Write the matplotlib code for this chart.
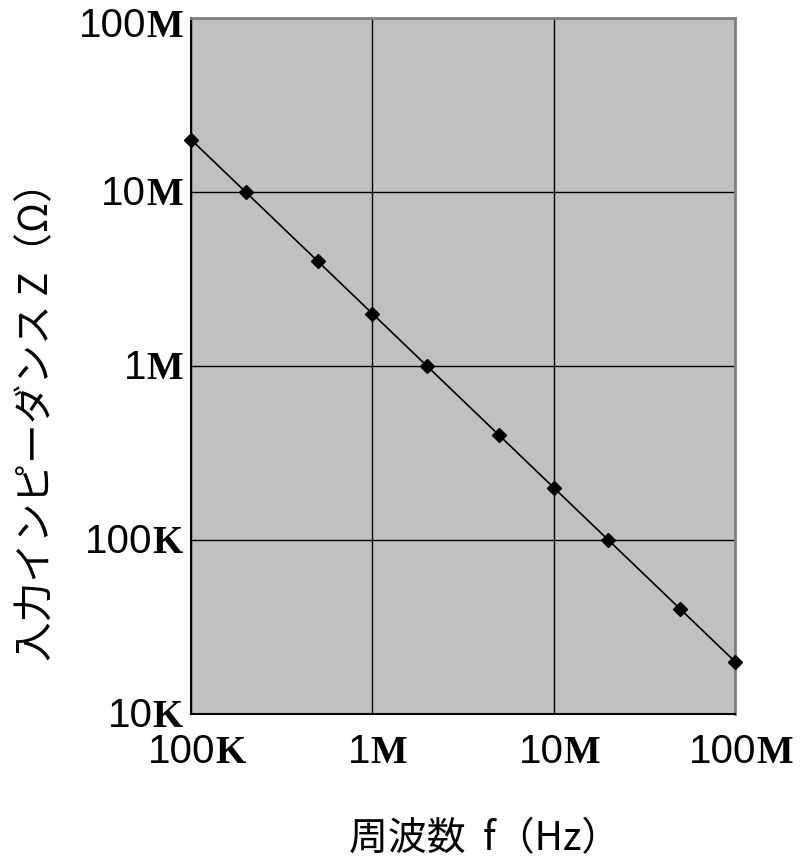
import matplotlib.pyplot as plt
from matplotlib.offsetbox import AnnotationBbox, HPacker, TextArea

plt.rcParams['font.family'] = ['Noto Sans CJK JP', 'DejaVu Sans']

freq_hz = [1e5, 2e5, 5e5, 1e6, 2e6, 5e6, 1e7, 2e7, 5e7, 1e8]
impedance_ohm = [2e7, 1e7, 4e6, 2e6, 1e6, 4e5, 2e5, 1e5, 4e4, 2e4]

x_ticks = [1e5, 1e6, 1e7, 1e8]
x_tick_labels = [("100", "K"), ("1", "M"), ("10", "M"), ("100", "M")]
y_ticks = [1e4, 1e5, 1e6, 1e7, 1e8]
y_tick_labels = [("10", "K"), ("100", "K"), ("1", "M"), ("10", "M"), ("100", "M")]

num_props = dict(family="Liberation Sans", size=29, color="black")
unit_props = dict(family="Liberation Serif", weight="bold", size=28, color="black")


def tick_box(num, unit):
    return HPacker(children=[TextArea(num, textprops=num_props),
                             TextArea(unit, textprops=unit_props)],
                   align="baseline", pad=0, sep=0)


fig = plt.figure(figsize=(8.07, 8.60), dpi=100)
ax = fig.add_axes([0.2367, 0.1698, 0.6741, 0.8093])
ax.set_facecolor("#c0c0c0")

ax.plot(freq_hz, impedance_ohm, color="black", linewidth=1.2,
        marker="D", markersize=7.5, clip_on=False, zorder=3)

ax.set_xscale("log")
ax.set_yscale("log")
ax.set_xlim(1e5, 1e8)
ax.set_ylim(1e4, 1e8)
ax.set_xticks(x_ticks)
ax.set_yticks(y_ticks)
ax.minorticks_off()
ax.tick_params(length=0, labelbottom=False, labelleft=False)
ax.grid(True, color="black", linewidth=1)

for side in ("left", "bottom"):
    ax.spines[side].set_color("black")
    ax.spines[side].set_linewidth(1.5)
for side in ("top", "right"):
    ax.spines[side].set_color("#808080")
    ax.spines[side].set_linewidth(2)

# tick labels: sans digits followed by a bold serif unit letter
for xv, (num, unit) in zip(x_ticks, x_tick_labels):
    ab = AnnotationBbox(tick_box(num, unit), (xv, 0),
                        xycoords=("data", "axes fraction"),
                        xybox=(4, -14), boxcoords="offset points",
                        box_alignment=(0.5, 1), frameon=False)
    ax.add_artist(ab)
for yv, (num, unit) in zip(y_ticks, y_tick_labels):
    dy = -6 if yv == y_ticks[-1] else -2
    ab = AnnotationBbox(tick_box(num, unit), (0, yv),
                        xycoords=("axes fraction", "data"),
                        xybox=(-6, dy), boxcoords="offset points",
                        box_alignment=(1, 0.5), frameon=False)
    ax.add_artist(ab)

fig.text(0.046, 0.521, "入力インピーダンス Z（Ω）", rotation=90,
         ha="center", va="center", fontsize=28.5)
fig.text(0.600, 0.024, "周波数  f（Hz）", ha="center", va="center", fontsize=28)

fig.savefig("out.png", dpi=100)
